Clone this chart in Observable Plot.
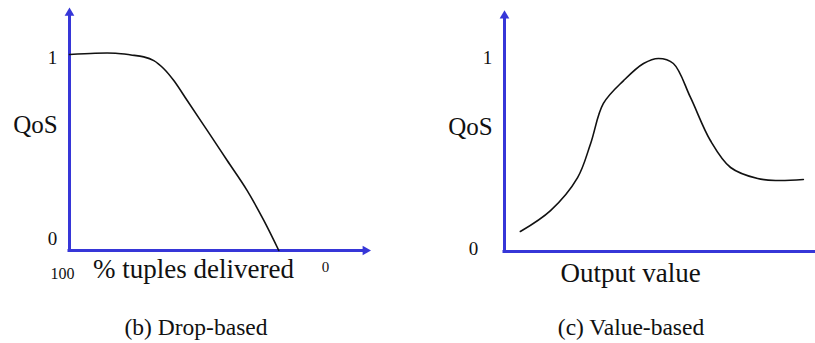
<!DOCTYPE html>
<html>
<head>
<meta charset="utf-8">
<script src="https://cdn.jsdelivr.net/npm/d3@7"></script>
<script src="https://cdn.jsdelivr.net/npm/@observablehq/plot@0.6"></script>
<style>
  body { margin: 0; background: #fff; }
  #fig { position: relative; width: 815px; height: 343px; font-family: "Liberation Serif", "Times New Roman", serif; color: #111; }
  .panel { position: absolute; top: 0; }
  .cap { position: absolute; top: 316px; line-height: 22px; font-size: 23.5px; text-align: center; white-space: nowrap; }
</style>
</head>
<body>
<div id="fig">
  <div class="panel" id="drop" style="left:0"></div>
  <div class="panel" id="value" style="left:408px"></div>
  <div class="cap" style="left:0;width:392px">(b) Drop-based</div>
  <div class="cap" style="left:451px;width:360px">(c) Value-based</div>
</div>
<script>
// (b) Drop-based QoS: utility as a function of the share of tuples delivered
const deliveredPct = [100, 90, 82, 76, 71, 67.07, 63.16, 59.26, 54.02, 46.21, 38.40, 30.59, 24.10, 18.24];
const dropQoS      = [1.01, 1.017, 1.017, 1.008, 0.998, 0.979, 0.937, 0.876, 0.773, 0.619, 0.464, 0.309, 0.155, 0];

// (c) Value-based QoS: utility as a function of the output value
const outputValue = [0.51, 1.48, 2.35, 2.77, 3.18, 3.83, 4.47, 4.95, 5.43, 5.98, 6.62, 7.27, 8.14, 8.78, 9.61];
const valueQoS    = [0.103, 0.211, 0.381, 0.557, 0.763, 0.881, 0.969, 0.995, 0.969, 0.794, 0.572, 0.433, 0.376, 0.366, 0.371];

// tick labels
const qosTicks = [0, 1];
const deliveredTicks = [100, 0];

const yTitle = "QoS";
const dropXTitle = "% tuples delivered";
const valueXTitle = "Output value";

const axisBlue = "#3636d8";
const ink = "#111";
const serif = '"Liberation Serif", "Times New Roman", serif';

const dropData = d3.zip(deliveredPct, dropQoS).map(([x, y]) => ({x, y}));
const valueData = d3.zip(outputValue, valueQoS).map(([x, y]) => ({x, y}));

const label = {fontFamily: serif, fill: ink, textAnchor: "middle", lineAnchor: "middle"};

// axes with a filled arrowhead at the far end
function arrowAxes(x0, xEnd, y0, yEnd, xArrow) {
  const marks = [
    Plot.ruleY([y0], {x1: x0, x2: xEnd, stroke: axisBlue, strokeWidth: 3, strokeLinecap: "square"}),
    Plot.ruleX([x0], {y1: y0, y2: yEnd, stroke: axisBlue, strokeWidth: 3, strokeLinecap: "square"}),
    Plot.dot([0], {x: x0, y: yEnd, symbol: "triangle", r: 3.6, fill: axisBlue, stroke: "none"})
  ];
  if (xArrow) marks.push(Plot.dot([0], {x: xEnd, y: y0, symbol: "triangle", r: 3.6, rotate: 90, fill: axisBlue, stroke: "none"}));
  return marks;
}

const dropPlot = Plot.plot({
  width: 408, height: 300,
  marginLeft: 69, marginRight: 83, marginTop: 56, marginBottom: 50,
  x: {domain: [100, 0], axis: null},
  y: {domain: [0, 1], axis: null},
  style: {fontFamily: serif, color: ink, background: "transparent", overflow: "visible"},
  marks: [
    ...arrowAxes(100, -15.6, 0, 1.224, true),
    Plot.line(dropData, {x: "x", y: "y", curve: "catmull-rom", stroke: ink, strokeWidth: 1.6}),
    Plot.text(qosTicks.filter(d => d === 1), {...label, x: 100, y: d => d, text: d => String(d), dx: -17, dy: 1, fontSize: 19}),
    Plot.text(qosTicks.filter(d => d === 0), {...label, x: 100, y: d => d, text: d => String(d), dx: -17, dy: -12, fontSize: 19}),
    Plot.text(deliveredTicks.filter(d => d === 100), {...label, x: d => d, y: 0, text: d => String(d), dx: -7, dy: 23, fontSize: 16}),
    Plot.text(deliveredTicks.filter(d => d === 0), {...label, x: d => d, y: 0, text: d => String(d), dy: 17, fontSize: 15}),
    Plot.text([yTitle], {...label, frameAnchor: "top-left", text: d => d, dx: -34, dy: 68.5, fontSize: 25}),
    Plot.text([dropXTitle], {...label, frameAnchor: "bottom", text: d => d, dx: -4, dy: 19, fontSize: 27})
  ]
});
document.getElementById("drop").append(dropPlot);

const valuePlot = Plot.plot({
  width: 407, height: 300,
  marginLeft: 96, marginRight: 0, marginTop: 57, marginBottom: 49,
  x: {domain: [0, 10], axis: null},
  y: {domain: [0, 1], axis: null},
  style: {fontFamily: serif, color: ink, background: "transparent", overflow: "visible"},
  marks: [
    ...arrowAxes(0, 10, 0, 1.215, false),
    Plot.line(valueData, {x: "x", y: "y", curve: "catmull-rom", stroke: ink, strokeWidth: 1.6}),
    Plot.text(qosTicks.filter(d => d === 1), {...label, x: 0, y: d => d, text: d => String(d), dx: -17, dy: 0, fontSize: 19}),
    Plot.text(qosTicks.filter(d => d === 0), {...label, x: 0, y: d => d, text: d => String(d), dx: -31, dy: -3, fontSize: 19}),
    Plot.text([yTitle], {...label, frameAnchor: "top-left", text: d => d, dx: -34, dy: 69.5, fontSize: 25}),
    Plot.text([valueXTitle], {...label, frameAnchor: "bottom", text: d => d, dx: -29.5, dy: 22, fontSize: 27})
  ]
});
document.getElementById("value").append(valuePlot);
</script>
</body>
</html>
